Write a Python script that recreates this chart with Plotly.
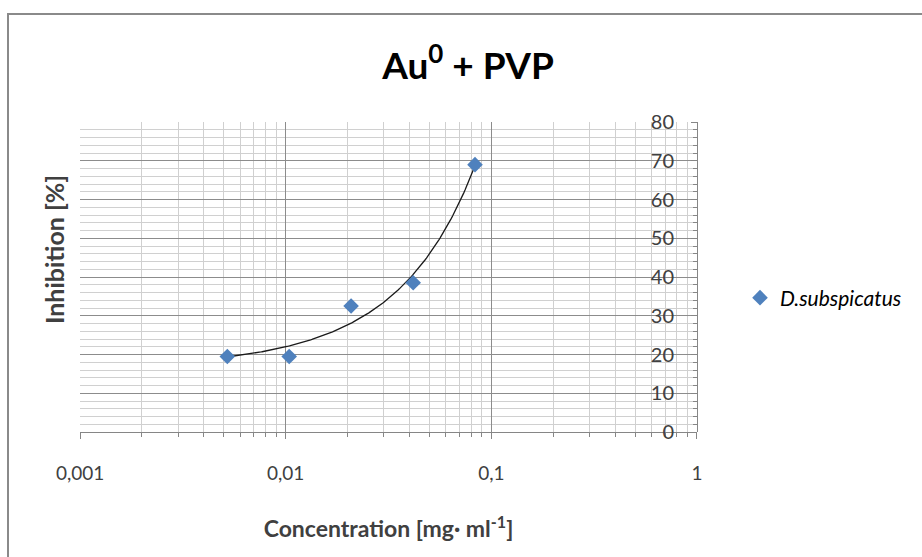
import numpy as np
import plotly.graph_objects as go

# Data
concentration = [0.0052, 0.0104, 0.0208, 0.0417, 0.0833]
inhibition = [19.5, 19.5, 32.5, 38.5, 69.0]
series_name = "D.subspicatus"
x_tick_vals = [0.001, 0.01, 0.1, 1]
x_tick_text = ["0,001", "0,01", "0,1", "1"]
y_tick_vals = [0, 10, 20, 30, 40, 50, 60, 70, 80]

# Polynomial (order 2) trendline fitted from data
coef = np.polyfit(concentration, inhibition, 2)
xt = np.geomspace(concentration[0], concentration[-1], 200)
yt = np.polyval(coef, xt)

FONT = "Lato, 'Open Sans', sans-serif"
fig = go.Figure()
fig.add_trace(go.Scatter(x=xt, y=yt, mode="lines", line=dict(color="#1a1a1a", width=1.3),
                         showlegend=False, hoverinfo="skip"))
fig.add_trace(go.Scatter(x=concentration, y=inhibition, mode="markers",
                         name="<i>" + series_name + "</i>",
                         marker=dict(symbol="diamond", size=12, color="#4F81BD",
                                     line=dict(color="#4F81BD", width=0))))

minor_x = [m * 10.0 ** e for e in range(-3, 0) for m in range(2, 10)]

fig.update_layout(
    width=922, height=557,
    margin=dict(l=80, r=225, t=122, b=125),
    paper_bgcolor="white", plot_bgcolor="white",
    font=dict(family=FONT, color="#404040", size=19),
    title=dict(text="<b>Au<sup style='font-size:24px'>0</sup> + PVP</b>", x=468 / 922, xanchor="center",
               y=1 - 66 / 557, yanchor="middle", font=dict(size=37, color="#000000", family=FONT)),
    showlegend=True,
    legend=dict(x=(740 - 80) / 617, y=(432 - 298) / 310, xanchor="left", yanchor="middle",
                font=dict(size=21, color="#000000", family=FONT), bgcolor="rgba(0,0,0,0)",
                itemwidth=30, tracegroupgap=0),
    xaxis=dict(type="log", range=[-3.0004, 0.0004], domain=[0, 1],
               tickvals=x_tick_vals, ticktext=x_tick_text,
               showgrid=True, gridcolor="#8c8c8c", gridwidth=1,
               showline=True, linecolor="#868686", linewidth=1,
               ticks="outside", ticklen=6, tickcolor="#868686",
               tickfont=dict(size=19, color="#404040"), ticklabelstandoff=18,
               minor=dict(tickvals=minor_x, showgrid=True, gridcolor="#d0d0d0",
                          ticks="outside", ticklen=4, tickcolor="#868686"),
               title=dict(text="<b>Concentration [mg· ml<sup>-1</sup>]</b>",
                          font=dict(size=23, color="#404040"), standoff=38),
               zeroline=False, mirror=False),
    yaxis=dict(range=[0, 80], tickvals=y_tick_vals, side="left", anchor="free", position=1.0,
               showgrid=True, gridcolor="#8c8c8c", gridwidth=1,
               showline=True, linecolor="#868686", linewidth=1,
               ticks="outside", ticklen=6, tickcolor="#868686",
               tickfont=dict(size=20, color="#404040"), ticklabelstandoff=13,
               minor=dict(dtick=2, showgrid=True, gridcolor="#d0d0d0",
                          ticks="outside", ticklen=4, tickcolor="#868686"),
               zeroline=False),
    shapes=[dict(type="rect", xref="paper", yref="paper",
                 x0=(8 - 80) / 617, x1=2.0, y0=-1.0, y1=(432 - 14) / 310,
                 line=dict(color="#8a8a8a", width=2), fillcolor="rgba(0,0,0,0)", layer="below")],
    annotations=[dict(text="<b>Inhibition [%]</b>", xref="paper", yref="paper",
                      x=(54 - 80) / 617, y=(432 - 250) / 310, textangle=-90, showarrow=False,
                      xanchor="center", yanchor="middle",
                      font=dict(size=25, color="#404040", family=FONT))],
)
fig.write_html("out.html")
